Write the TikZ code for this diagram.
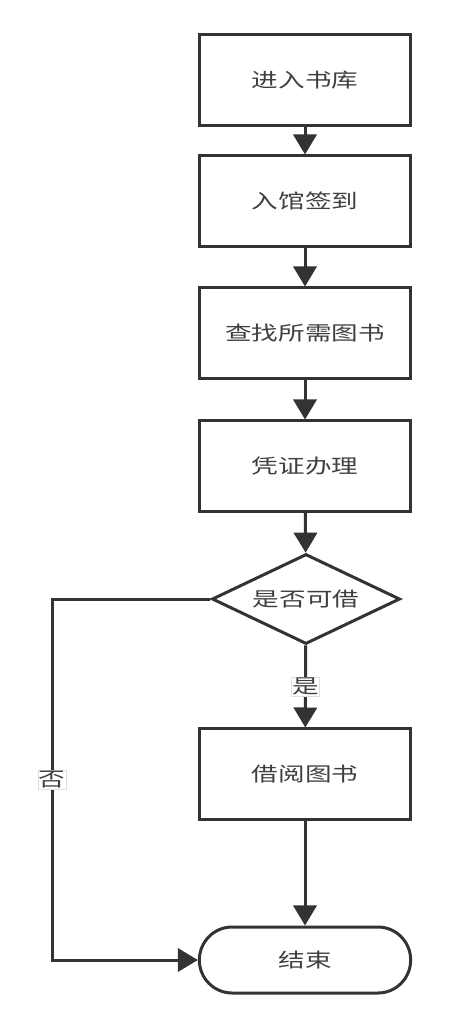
\documentclass[tikz,border=0pt]{standalone}
\usepackage{fontspec}
\usepackage{tikz}
\usetikzlibrary{arrows.meta,shapes.geometric}
\newfontfamily\cjk[FakeStretch=1.35]{Noto Sans CJK SC}
\definecolor{linegray}{HTML}{333333}
\definecolor{textgray}{HTML}{3F3F3F}

\begin{document}
\begin{tikzpicture}[x=0.025cm, y=-0.025cm,
    every node/.style={font=\cjk\fontsize{14}{16}\selectfont, text=textgray},
    box/.style={draw=linegray, line width=0.075cm, rectangle, minimum width=5.28cm, minimum height=2.25cm},
    decision/.style={draw=linegray, line width=0.075cm, diamond, aspect=2, inner sep=0pt, minimum width=4.7cm, minimum height=2.25cm},
    terminal/.style={draw=linegray, line width=0.075cm, rectangle, rounded corners=0.82cm, minimum width=5.28cm, minimum height=1.65cm},
    flow/.style={draw=linegray, line width=0.075cm, -{Triangle[length=0.5cm, width=0.58cm]}},
    lbl/.style={fill=white, draw=gray!25, line width=0.4pt, inner sep=0.6pt}]
  \useasboundingbox (0,0) rectangle (464,1027);
  % ---- main column ----
  \node[box] (enter) at (305,80) {进入书库};
  \node[box] (signin) at (305,201) {入馆签到};
  \node[box] (search) at (305,333) {查找所需图书};
  \node[box] (voucher) at (305,466) {凭证办理};
  \node[decision] (canborrow) at (306,599) {是否可借};
  \node[box] (borrow) at (305,774) {借阅图书};
  \node[terminal] (finish) at (305,960) {结束};
  \coordinate (nocorner) at (52,599);
  % ---- connectors ----
  \draw[flow] (enter) -- (signin);
  \draw[flow] (signin) -- (search);
  \draw[flow] (search) -- (voucher);
  \draw[flow] (voucher) -- (canborrow);
  \draw[flow] (canborrow) -- node[lbl] {是} (borrow);
  \draw[flow] (borrow) -- (finish);
  \draw[flow] (canborrow.west) -- (nocorner) |- node[lbl, pos=0.25] {否} (finish.west);
\end{tikzpicture}
\end{document}
